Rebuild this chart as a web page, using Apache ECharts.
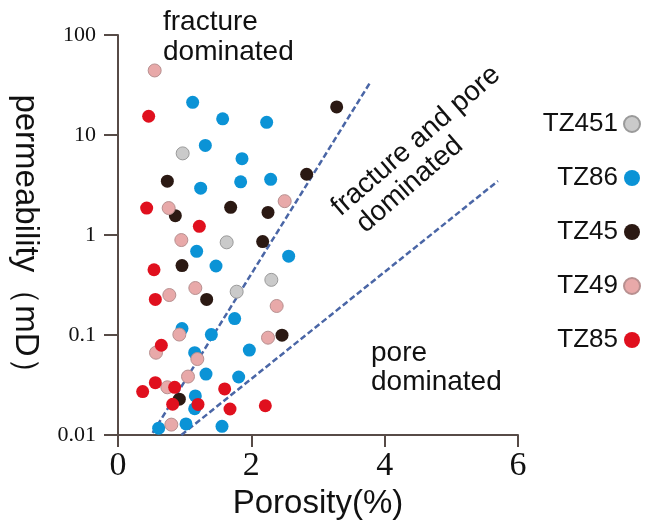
<!DOCTYPE html>
<html>
<head>
<meta charset="utf-8">
<script src="https://cdn.jsdelivr.net/npm/echarts@6/dist/echarts.min.js"></script>
<style>
  html, body { margin: 0; padding: 0; background: #fff; }
  #main { width: 646px; height: 524px; }
</style>
</head>
<body>
<div id="main"></div>
<script>
// porosity (%) / permeability (mD) per well
var TZ451 = [[0.97, 6.55], [1.63, 0.845], [2.30, 0.356], [1.78, 0.271]];
var TZ86 = [
  [1.12, 21.2], [1.57, 14.5], [2.23, 13.4], [1.31, 7.87], [1.86, 5.8],
  [1.84, 3.4], [2.29, 3.6], [1.24, 2.94], [1.18, 0.687], [2.56, 0.614],
  [1.47, 0.49], [1.75, 0.146], [0.96, 0.116], [1.40, 0.101], [1.97, 0.0706],
  [1.15, 0.0665], [1.32, 0.0407], [1.81, 0.038], [1.16, 0.0246], [1.15, 0.0183],
  [0.61, 0.0117], [1.02, 0.0129], [1.56, 0.0122]
];
var TZ45 = [
  [3.28, 19.1], [2.83, 4.05], [0.74, 3.45], [0.86, 1.56], [1.69, 1.89],
  [2.25, 1.68], [2.17, 0.86], [0.96, 0.495], [1.33, 0.227], [2.46, 0.0995],
  [0.92, 0.0228]
];
var TZ49 = [
  [0.55, 44.2], [2.50, 2.18], [0.76, 1.86], [0.95, 0.89], [0.77, 0.251],
  [1.16, 0.295], [2.38, 0.195], [0.92, 0.101], [2.25, 0.094], [0.57, 0.0665],
  [1.19, 0.0575], [1.05, 0.0384], [0.74, 0.030], [0.80, 0.0127]
];
var TZ85 = [
  [0.46, 15.4], [0.43, 1.86], [1.22, 1.22], [0.54, 0.449], [0.56, 0.227],
  [0.65, 0.079], [0.56, 0.0334], [0.37, 0.0272], [0.85, 0.030], [0.82, 0.0203],
  [1.20, 0.0202], [1.60, 0.0289], [1.68, 0.0182], [2.21, 0.0196]
];
// boundary lines
var upperLine = [[0.52, 0.0105], [3.78, 33.3]];
var lowerLine = [[0.95, 0.0100], [5.70, 3.47]];
var xTicks = [0, 6, 2];   // min, max, interval
var yRange = [0.01, 100];

var chart = echarts.init(document.getElementById('main'));

function dots(name, data, color, border) {
  return {
    name: name,
    type: 'scatter',
    data: data,
    symbolSize: 13,
    itemStyle: {
      color: color,
      borderColor: border || color,
      borderWidth: border ? 1 : 0,
      opacity: 1
    },
    z: 3
  };
}
function dash(data) {
  return {
    type: 'line',
    data: data,
    symbol: 'none',
    silent: true,
    lineStyle: { color: '#4a66a6', width: 2.5, type: [6, 3] },
    z: 2
  };
}

var axisCol = '#574b47';
var option = {
  backgroundColor: '#ffffff',
  animation: false,
  grid: { left: 118, right: 128, top: 35, bottom: 89, outerBoundsMode: 'none', containLabel: false },
  legend: {
    orient: 'vertical',
    right: 0,
    top: 106,
    align: 'right',
    itemGap: 28,
    itemWidth: 16,
    itemHeight: 16,
    icon: 'circle',
    data: ['TZ451', 'TZ86', 'TZ45', 'TZ49', 'TZ85'],
    textStyle: { fontFamily: 'Liberation Sans', fontSize: 26, color: '#111', padding: [0, 1, 0, 0] }
  },
  xAxis: {
    type: 'value',
    min: xTicks[0], max: xTicks[1], interval: xTicks[2],
    name: 'Porosity(%)',
    nameLocation: 'middle',
    nameGap: 47,
    nameTextStyle: { fontFamily: 'Liberation Sans', fontSize: 33, color: '#111' },
    splitLine: { show: false },
    axisLine: { onZero: false, lineStyle: { color: axisCol, width: 2 } },
    axisTick: { length: 12, lineStyle: { color: axisCol, width: 2 } },
    axisLabel: { fontFamily: 'Liberation Serif', fontSize: 34, color: '#111', margin: 14 }
  },
  yAxis: {
    type: 'log',
    logBase: 10,
    min: yRange[0], max: yRange[1],
    name: 'permeability（mD）',
    nameLocation: 'middle',
    nameGap: 76,
    nameRotate: -90,
    nameTextStyle: { fontFamily: 'Liberation Sans', fontSize: 33, color: '#111', padding: [0, 0, 0, 14] },
    splitLine: { show: false },
    axisLine: { lineStyle: { color: axisCol, width: 2 } },
    axisTick: { length: 14, lineStyle: { color: axisCol, width: 2 } },
    axisLabel: { fontFamily: 'Liberation Serif', fontSize: 22, color: '#111', margin: 22 }
  },
  graphic: [
    {
      type: 'text', left: 163, top: 7,
      style: { text: 'fracture\ndominated', font: '28px "Liberation Sans"', fill: '#111', lineHeight: 30 }
    },
    {
      type: 'text', x: 326, y: 200, rotation: Math.PI * 41 / 180,
      style: { text: 'fracture and pore\n dominated', font: '28px "Liberation Sans"', fill: '#111', lineHeight: 29 }
    },
    {
      type: 'text', left: 371, top: 339,
      style: { text: 'pore\ndominated', font: '28px "Liberation Sans"', fill: '#111', lineHeight: 29 }
    }
  ],
  series: [
    dots('TZ451', TZ451, '#cacaca', '#9a9a9a'),
    dots('TZ86', TZ86, '#0b93d6'),
    dots('TZ45', TZ45, '#2b1913'),
    dots('TZ49', TZ49, '#e8a9a9', '#b89090'),
    dots('TZ85', TZ85, '#e0101e'),
    dash(upperLine),
    dash(lowerLine)
  ]
};
chart.setOption(option);
</script>
</body>
</html>
